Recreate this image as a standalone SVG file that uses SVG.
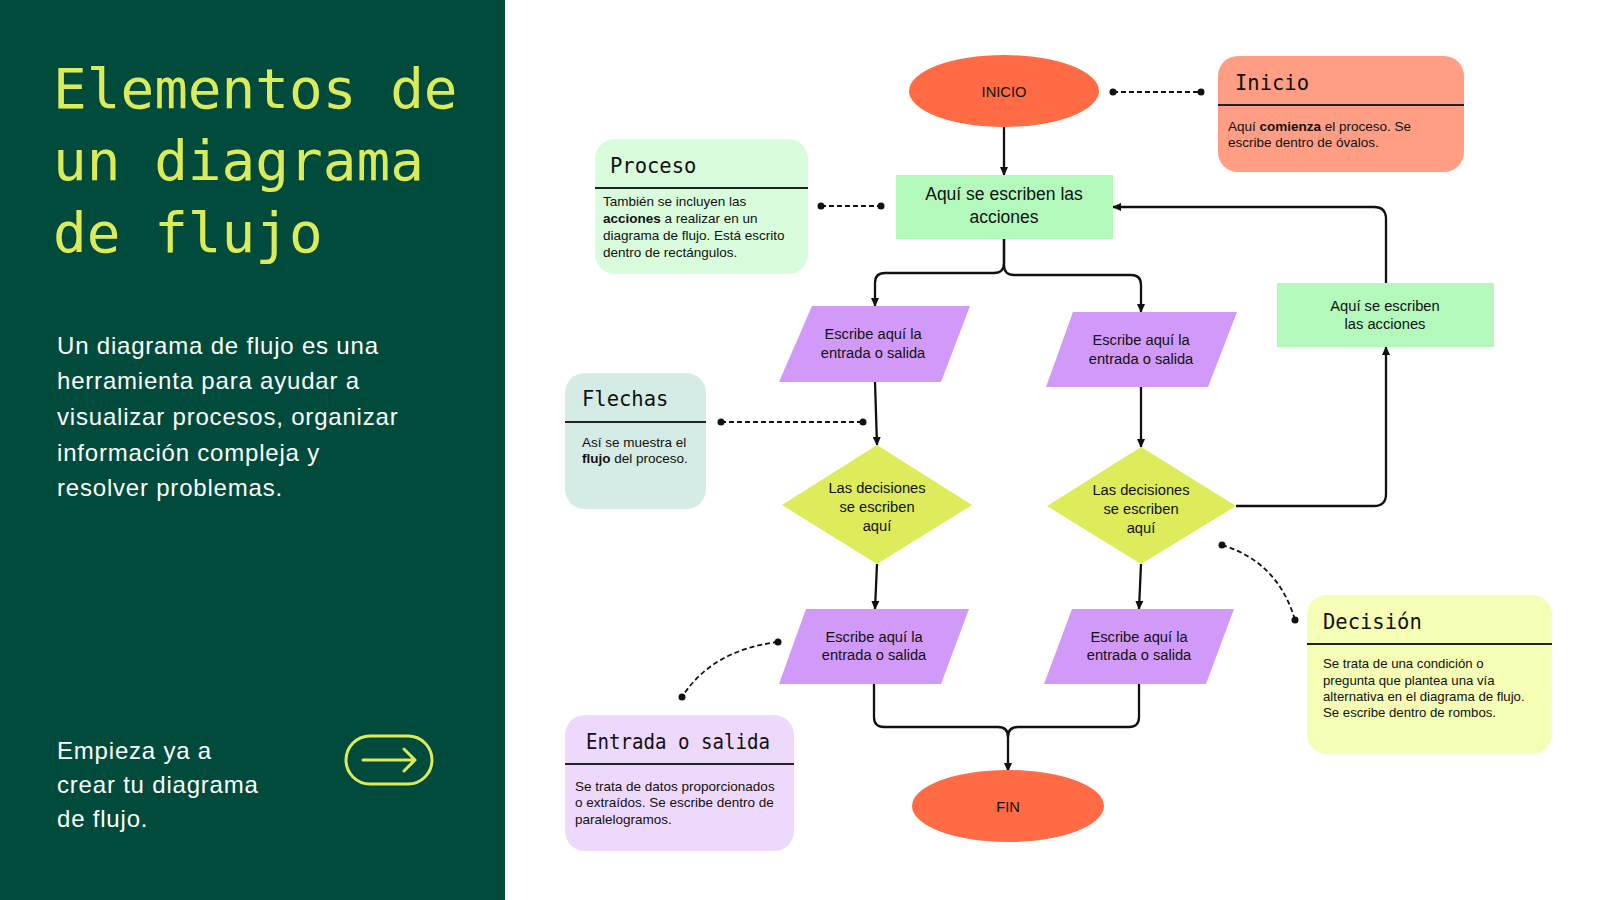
<svg xmlns="http://www.w3.org/2000/svg" width="1600" height="900" viewBox="0 0 1600 900">
<defs>
<marker id="ah" viewBox="0 0 10 10" refX="9" refY="5" markerWidth="9" markerHeight="9" markerUnits="userSpaceOnUse" orient="auto">
<path d="M0,0.5 L10,5 L0,9.5 z" fill="#111"/>
</marker>
<style>
.ttl{font-family:"DejaVu Sans Mono","Liberation Mono",monospace;fill:#111;font-size:20.5px}
.bd{font-family:"Liberation Sans",Arial,sans-serif;fill:#111;font-size:13.5px}
.nd{font-family:"Liberation Sans",Arial,sans-serif;fill:#111;font-size:14.7px;text-anchor:middle}
.wt{font-family:"Liberation Sans",Arial,sans-serif;fill:#FFFFFF;font-size:24px;letter-spacing:0.8px}
.flow{fill:none;stroke:#111;stroke-width:2.3;marker-end:url(#ah)}
.dash{fill:none;stroke:#111;stroke-width:1.8;stroke-dasharray:5 3}
.dot{fill:#111}
.div{stroke:#222;stroke-width:1.8}
.para{fill:#D29AF8}
.dia{fill:#DEEC5C}
.proc{fill:#B3F9BB}
.term{fill:#FF6B45}
</style>
</defs>
<rect x="0" y="0" width="1600" height="900" fill="#FFFFFF"/>
<g id="left-panel">
<rect x="0" y="0" width="505" height="900" fill="#004B3B"/>
<text font-family="DejaVu Sans Mono,Liberation Mono,monospace" font-size="56" fill="#DCEB5C">
<tspan x="53" y="108">Elementos de</tspan>
<tspan x="53" y="180">un diagrama</tspan>
<tspan x="53" y="252">de flujo</tspan>
</text>
<text class="wt">
<tspan x="57" y="354">Un diagrama de flujo es una</tspan>
<tspan x="57" y="389">herramienta para ayudar a</tspan>
<tspan x="57" y="425">visualizar procesos, organizar</tspan>
<tspan x="57" y="461">información compleja y</tspan>
<tspan x="57" y="496">resolver problemas.</tspan>
</text>
<text class="wt">
<tspan x="57" y="759">Empieza ya a</tspan>
<tspan x="57" y="793">crear tu diagrama</tspan>
<tspan x="57" y="827">de flujo.</tspan>
</text>
<g id="arrow-button" fill="none" stroke="#DCEB5C" stroke-width="3" stroke-linecap="round" stroke-linejoin="round">
<rect x="346" y="736" width="86" height="48" rx="24"/>
<path d="M363,760 H415 M404,749 L415,760 L404,771"/>
</g>
</g>

<g id="connectors">
<path class="flow" d="M1004,127 V175"/>
<path class="flow" d="M1004,239 V263 Q1004,273 994,273 H885 Q875,273 875,283 V306"/>
<path class="flow" d="M1004,239 V265 Q1004,275 1014,275 H1131 Q1141,275 1141,285 V312"/>
<path class="flow" d="M875,382 L877,445"/>
<path class="flow" d="M1141,387 V447"/>
<path class="flow" d="M877,564 L875,609"/>
<path class="flow" d="M1141,564 L1139,609"/>
<path class="flow" d="M1236,506 H1374 Q1386,506 1386,494 V347"/>
<path class="flow" d="M1386,283 V219 Q1386,207 1374,207 H1113"/>
<path class="flow" d="M874,684 V717 Q874,727 884,727 H998 Q1008,727 1008,737 V771"/>
<path fill="none" stroke="#111" stroke-width="2.3" d="M1139,684 V717 Q1139,727 1129,727 H1018 Q1008,727 1008,737"/>
<path class="dash" d="M1113,92 H1201"/>
<circle class="dot" cx="1113" cy="92" r="3.5"/><circle class="dot" cx="1201" cy="92" r="3.5"/>
<path class="dash" d="M821,206 H881"/>
<circle class="dot" cx="821" cy="206" r="3.5"/><circle class="dot" cx="881" cy="206" r="3.5"/>
<path class="dash" d="M721,422 H863"/>
<circle class="dot" cx="721" cy="422" r="3.5"/><circle class="dot" cx="863" cy="422" r="3.5"/>
<path class="dash" d="M778,642 Q712,650 682,697"/>
<circle class="dot" cx="778" cy="642" r="3.5"/><circle class="dot" cx="682" cy="697" r="3.5"/>
<path class="dash" d="M1222,545 Q1278,562 1295,620"/>
<circle class="dot" cx="1222" cy="545" r="3.5"/><circle class="dot" cx="1295" cy="620" r="3.5"/>
</g>

<g id="inicio">
<ellipse class="term" cx="1004" cy="91" rx="95" ry="36"/>
<text class="nd" x="1004" y="97" font-size="16.4">INICIO</text>
</g>
<g id="accion-central">
<rect class="proc" x="896" y="175" width="217" height="64"/>
<text class="nd" style="font-size:17.5px"><tspan x="1004" y="200">Aquí se escriben las</tspan><tspan x="1004" y="223">acciones</tspan></text>
</g>
<g id="accion-derecha">
<rect class="proc" x="1277" y="283" width="217" height="64"/>
<text class="nd"><tspan x="1385" y="311">Aquí se escriben</tspan><tspan x="1385" y="329">las acciones</tspan></text>
</g>
<g id="entrada-1">
<polygon class="para" points="812,306 970,306 941,382 779,382"/>
<text class="nd"><tspan x="873" y="339">Escribe aquí la</tspan><tspan x="873" y="358">entrada o salida</tspan></text>
</g>
<g id="entrada-2">
<polygon class="para" points="1073,312 1237,312 1208,387 1046,387"/>
<text class="nd"><tspan x="1141" y="345">Escribe aquí la</tspan><tspan x="1141" y="364">entrada o salida</tspan></text>
</g>
<g id="decision-1">
<polygon class="dia" points="877,445 972,505 877,564 782,505"/>
<text class="nd"><tspan x="877" y="493">Las decisiones</tspan><tspan x="877" y="512">se escriben</tspan><tspan x="877" y="531">aquí</tspan></text>
</g>
<g id="decision-2">
<polygon class="dia" points="1141,447 1236,506 1141,564 1047,506"/>
<text class="nd"><tspan x="1141" y="495">Las decisiones</tspan><tspan x="1141" y="514">se escriben</tspan><tspan x="1141" y="533">aquí</tspan></text>
</g>
<g id="salida-1">
<polygon class="para" points="806,609 969,609 941,684 779,684"/>
<text class="nd"><tspan x="874" y="642">Escribe aquí la</tspan><tspan x="874" y="660">entrada o salida</tspan></text>
</g>
<g id="salida-2">
<polygon class="para" points="1072,609 1234,609 1206,684 1044,684"/>
<text class="nd"><tspan x="1139" y="642">Escribe aquí la</tspan><tspan x="1139" y="660">entrada o salida</tspan></text>
</g>
<g id="fin">
<ellipse class="term" cx="1008" cy="806" rx="96" ry="36"/>
<text class="nd" x="1008" y="812" font-size="16.4">FIN</text>
</g>

<g id="card-inicio">
<rect x="1218" y="56" width="246" height="116" rx="20" fill="#FF9E85"/>
<line class="div" x1="1218" y1="105" x2="1464" y2="105"/>
<text class="ttl" x="1235" y="90">Inicio</text>
<text class="bd"><tspan x="1228" y="131">Aquí <tspan font-weight="bold">comienza</tspan> el proceso. Se</tspan><tspan x="1228" y="147">escribe dentro de óvalos.</tspan></text>
</g>
<g id="card-proceso">
<rect x="595" y="139" width="213" height="135" rx="20" fill="#D8FCDC"/>
<line class="div" x1="595" y1="188" x2="808" y2="188"/>
<text class="ttl" x="610" y="173">Proceso</text>
<text class="bd"><tspan x="603" y="206">También se incluyen las</tspan><tspan x="603" y="223"><tspan font-weight="bold">acciones</tspan> a realizar en un</tspan><tspan x="603" y="240">diagrama de flujo. Está escrito</tspan><tspan x="603" y="257">dentro de rectángulos.</tspan></text>
</g>
<g id="card-flechas">
<rect x="565" y="373" width="141" height="136" rx="20" fill="#D5EBE5"/>
<line class="div" x1="565" y1="422" x2="706" y2="422"/>
<text class="ttl" x="582" y="406">Flechas</text>
<text class="bd"><tspan x="582" y="447">Así se muestra el</tspan><tspan x="582" y="463"><tspan font-weight="bold">flujo</tspan> del proceso.</tspan></text>
</g>
<g id="card-entrada">
<rect x="565" y="715" width="229" height="136" rx="20" fill="#EDD9FC"/>
<line class="div" x1="565" y1="764" x2="794" y2="764"/>
<text class="ttl" x="586" y="749" textLength="184" lengthAdjust="spacingAndGlyphs">Entrada o salida</text>
<text class="bd"><tspan x="575" y="791">Se trata de datos proporcionados</tspan><tspan x="575" y="807">o extraídos. Se escribe dentro de</tspan><tspan x="575" y="824">paralelogramos.</tspan></text>
</g>
<g id="card-decision">
<rect x="1307" y="595" width="245" height="159" rx="20" fill="#F6FDB4"/>
<line class="div" x1="1307" y1="644" x2="1552" y2="644"/>
<text class="ttl" x="1323" y="629">Decisión</text>
<text class="bd" style="font-size:13.2px"><tspan x="1323" y="668">Se trata de una condición o</tspan><tspan x="1323" y="685">pregunta que plantea una vía</tspan><tspan x="1323" y="701">alternativa en el diagrama de flujo.</tspan><tspan x="1323" y="717">Se escribe dentro de rombos.</tspan></text>
</g>
</svg>
